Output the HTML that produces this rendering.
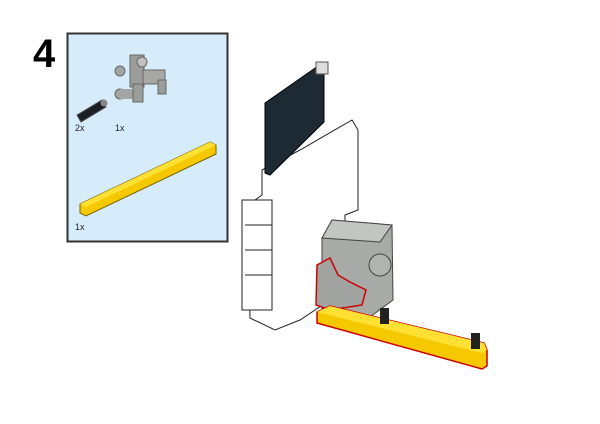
<!DOCTYPE html>
<html><head><meta charset="utf-8"><style>
html,body{margin:0;padding:0;background:#fff;width:600px;height:424px;overflow:hidden}
svg{display:block}
text{font-family:"Liberation Sans",sans-serif}
</style></head><body>
<svg width="600" height="424" viewBox="0 0 600 424">
<text x="33" y="67" font-size="40" font-weight="bold" fill="#000">4</text>
<rect x="67.5" y="33.5" width="160" height="208" fill="#d6ecfb" stroke="#333" stroke-width="2"/>
<g>
<polygon points="77,115 102,100 106,107 81,122" fill="#1a1f24" stroke="#555" stroke-width="1"/>
<circle cx="104" cy="103" r="3.5" fill="#888"/>
</g>
<g>
<rect x="130" y="55" width="14" height="32" fill="#9a9d9a" stroke="#666"/>
<rect x="143" y="70" width="22" height="14" fill="#a6a8a6" stroke="#666"/>
<circle cx="120" cy="71" r="5" fill="#a3a6a3" stroke="#666"/>
<circle cx="120" cy="94" r="5" fill="#a3a6a3" stroke="#666"/>
<rect x="120" y="89" width="14" height="10" fill="#a3a6a3"/>
<rect x="133" y="84" width="10" height="18" fill="#9a9d9a" stroke="#666"/>
<rect x="158" y="80" width="8" height="14" fill="#9a9d9a" stroke="#666"/>
<circle cx="142" cy="62" r="5" fill="#bfc1bf" stroke="#666"/>
</g>
<text x="75" y="131" font-size="9" fill="#222">2x</text>
<text x="115" y="131" font-size="9" fill="#222">1x</text>
<g>
<polygon points="80,204 210,142 216,145 216,154 86,216 80,213" fill="#f5c800" stroke="#7a6400" stroke-width="1"/>
<polygon points="80,204 210,142 216,145 86,207" fill="#ffe033"/>
</g>
<text x="75" y="230" font-size="9" fill="#222">1x</text>

<g stroke="#222" stroke-width="1" fill="#fff">
<polygon points="262,170 300,150 352,120 358,130 358,210 345,215 345,290 300,320 275,330 250,318 248,205 262,195"/>
<rect x="242" y="200" width="30" height="110" fill="#fff"/>
<line x1="245" y1="225" x2="272" y2="225"/><line x1="245" y1="250" x2="272" y2="250"/><line x1="245" y1="275" x2="272" y2="275"/>
</g>
<g>
<polygon points="265,103 318,66 324,68 324,122 270,175 265,173" fill="#1e2a33" stroke="#000"/>
<rect x="316" y="62" width="12" height="12" fill="#ddd" stroke="#555"/>
</g>
<g stroke="#444" stroke-width="1">
<polygon points="322,238 332,220 392,225 393,300 370,317 322,310" fill="#a7aaa7"/>
<polygon points="322,238 332,220 392,225 380,242" fill="#c3c5c3"/>
<circle cx="380" cy="265" r="11" fill="#b0b3b0"/>
<polygon points="317,265 330,258 338,275 350,282 366,290 362,305 330,310 316,305" fill="#a0a3a0" stroke="#c00" stroke-width="1.5"/>
</g>
<g>
<polygon points="317,312 330,306 484,343 487,350 487,366 482,369 317,323" fill="#f5c800" stroke="#c00" stroke-width="1.5"/>
<polygon points="317,312 330,306 484,343 487,350 482,353" fill="#ffe033"/>
</g>
<rect x="380" y="308" width="9" height="16" fill="#222"/>
<rect x="471" y="333" width="9" height="16" fill="#222"/>
</svg>
</body></html>
